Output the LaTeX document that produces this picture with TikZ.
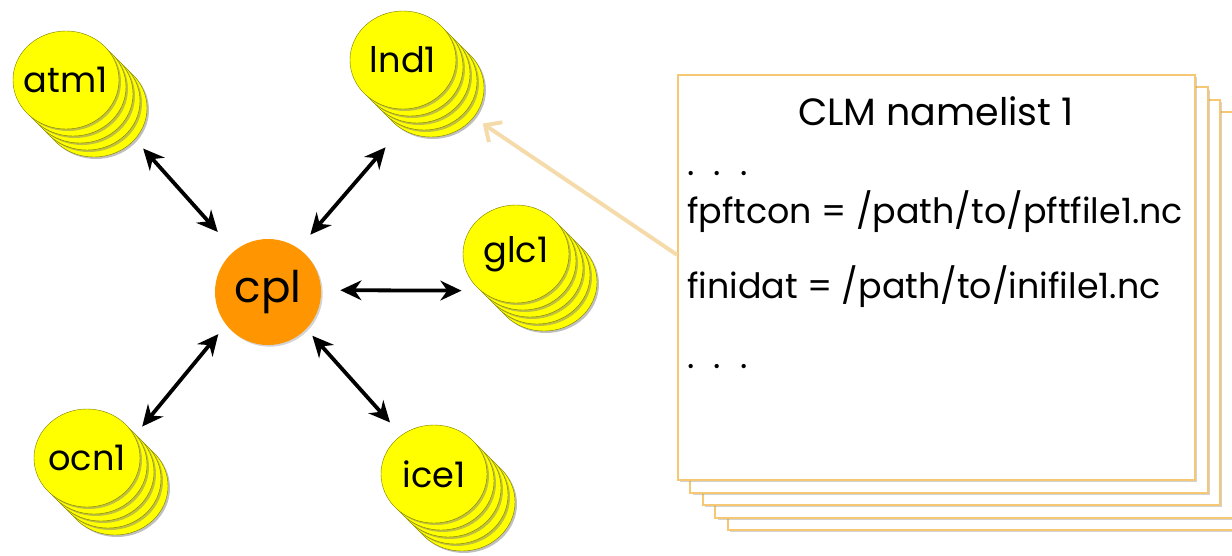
\documentclass[tikz,border=0pt]{standalone}
\usepackage{fontspec}
\setmainfont{Poppins}
\usetikzlibrary{arrows.meta, shapes.geometric, shadows}
\usepackage{xcolor}
\definecolor{coinyel}{RGB}{255,255,0}
\definecolor{cplorange}{RGB}{255,149,0}
\definecolor{pageedge}{RGB}{247,200,115}
\definecolor{feedtan}{RGB}{245,218,170}

\begin{document}
\begin{tikzpicture}[
  x=0.025cm, y=-0.025cm,
  coin/.style={ellipse, draw=coinyel!50!black, line width=0.3pt, fill=coinyel,
               minimum width=2.65cm, minimum height=2.45cm, inner sep=0pt,
               font=\fontsize{25}{27}\selectfont,
               drop shadow={shadow xshift=1.4pt, shadow yshift=-1.4pt, opacity=0.5}},
  hub/.style={circle, fill=cplorange, minimum size=2.65cm, inner sep=0pt,
              font=\fontsize{31}{33}\selectfont,
              drop shadow={shadow xshift=1.2pt, shadow yshift=-1.2pt, opacity=0.35}},
  sheet/.style={rectangle, draw=pageedge, line width=1.4pt, fill=white,
                minimum width=12.925cm, minimum height=10.125cm,
                drop shadow={shadow xshift=1.6pt, shadow yshift=-1.6pt, opacity=0.35}},
  sheettext/.style={font=\fontsize{24.8}{27}\selectfont, inner sep=0pt},
  link/.style={{Stealth[length=15pt,width=14pt]}-{Stealth[length=15pt,width=14pt]}, line width=2.7pt},
  feed/.style={-{Straight Barb[length=9pt,width=17pt]}, draw=feedtan, line width=2.8pt},
]
\clip (0,0) rectangle (1232,555);

% pages, back to front
\foreach \k in {4,3,2,1}
  \node[sheet] at ({936.5+12.5*\k}, {277.5+12.5*\k}) {};
\node[sheet] (page) at (936.5,277.5) {};
\node[sheettext, font=\fontsize{27}{29}\selectfont, anchor=base] (title) at (936,125) {CLM namelist 1};
\node[sheettext, anchor=base west] (dotsa) at (687,175) {.\hspace{0.55em}.\hspace{0.55em}.};
\node[sheettext, anchor=base west] (pft) at (687,223) {fpftcon = /path/to/pftfile1.nc};
\node[sheettext, anchor=base west] (ini) at (687,298) {finidat = /path/to/inifile1.nc};
\node[sheettext, anchor=base west] (dotsb) at (687,368) {.\hspace{0.55em}.\hspace{0.55em}.};

% component stacks
\foreach \n/\x/\y/\t in {atm/66/80/atm1, lnd/403/60/lnd1, glc/516/254/glc1,
                        ocn/87/458/ocn1, ice/434/474/ice1} {
  \foreach \k in {4,3,2,1}
    \node[coin] at ({\x+7*\k}, {\y+7*\k}) {};
  \node[coin] (\n) at (\x,\y) {\makebox[0pt]{\t}};
}
\node[hub] (cpl) at (268,292) {\makebox[0pt]{cpl}};

% couplings
\draw[link, shorten <=1.3cm, shorten >=0.625cm] (atm.325) -- (cpl.129);
\draw[link, shorten <=1.35cm, shorten >=0.45cm] (lnd.291) -- (cpl.55);
\draw[link, shorten <=0.475cm, shorten >=0.475cm] (cpl.2) -- (glc.226);
\draw[link, shorten <=0.3cm, shorten >=0.3cm] (ocn.25) -- (cpl.218);
\draw[link, shorten <=0.225cm, shorten >=0.425cm] (cpl.316) -- (ice.130);

\draw[feed, shorten >=1.275cm] (page.175) -- (lnd.317);
\end{tikzpicture}
\end{document}
